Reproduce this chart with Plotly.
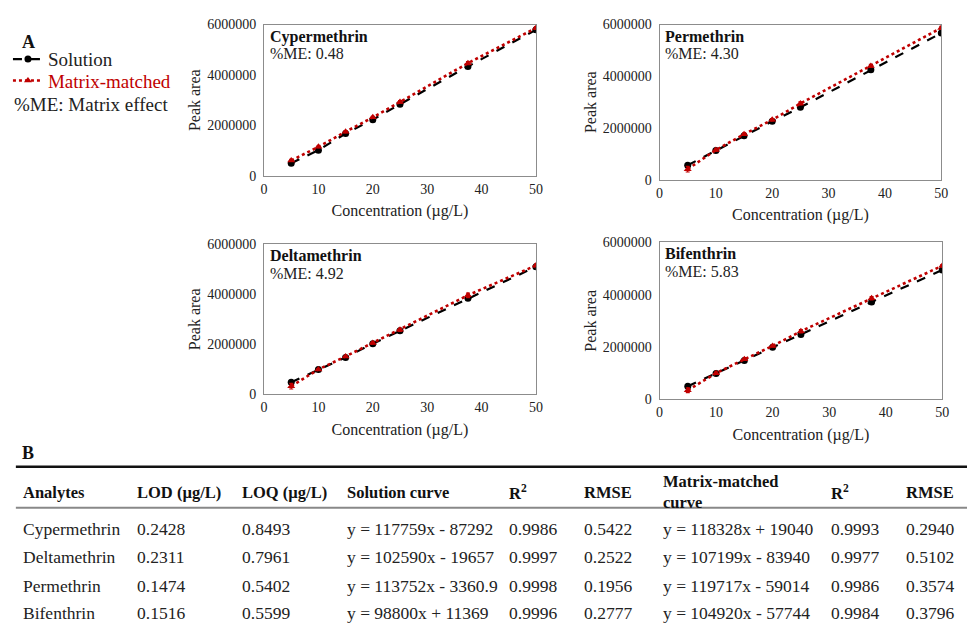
import plotly.graph_objects as go

W, H = 974, 626
conc = [5, 10, 15, 20, 25, 37.5, 50]

analytes_plot = ["Cypermethrin", "Permethrin", "Deltamethrin", "Bifenthrin"]
me_values = ["0.48", "4.30", "4.92", "5.83"]

solution = {
    "Cypermethrin": [500000, 1020000, 1680000, 2230000, 2840000, 4340000, 5790000],
    "Permethrin":   [560000, 1130000, 1700000, 2260000, 2800000, 4250000, 5670000],
    "Deltamethrin": [490000, 1000000, 1480000, 2030000, 2540000, 3840000, 5100000],
    "Bifenthrin":   [500000, 990000, 1480000, 1990000, 2480000, 3720000, 4940000],
}
matrix = {
    "Cypermethrin": [610000, 1150000, 1750000, 2320000, 2930000, 4470000, 5860000],
    "Permethrin":   [410000, 1150000, 1760000, 2320000, 2950000, 4400000, 5870000],
    "Deltamethrin": [330000, 1000000, 1520000, 2060000, 2580000, 3960000, 5150000],
    "Bifenthrin":   [350000, 1000000, 1530000, 2040000, 2600000, 3860000, 5100000],
}
matrix_err = {
    "Cypermethrin": [40000, 30000, 40000, 40000, 50000, 60000, 50000],
    "Permethrin":   [110000, 40000, 40000, 40000, 60000, 60000, 60000],
    "Deltamethrin": [110000, 30000, 30000, 40000, 60000, 90000, 50000],
    "Bifenthrin":   [90000, 40000, 40000, 40000, 60000, 60000, 50000],
}

# table data
tbl_headers = ["Analytes", "LOD (µg/L)", "LOQ (µg/L)", "Solution curve", "R<sup>2</sup>",
               "RMSE", "Matrix-matched<br>curve", "R<sup>2</sup>", "RMSE"]
tbl_analytes = ["Cypermethrin", "Deltamethrin", "Permethrin", "Bifenthrin"]
tbl_lod = ["0.2428", "0.2311", "0.1474", "0.1516"]
tbl_loq = ["0.8493", "0.7961", "0.5402", "0.5599"]
tbl_sol_curve = ["y = 117759x - 87292", "y = 102590x - 19657", "y = 113752x - 3360.9", "y = 98800x + 11369"]
tbl_sol_r2 = ["0.9986", "0.9997", "0.9998", "0.9996"]
tbl_sol_rmse = ["0.5422", "0.2522", "0.1956", "0.2777"]
tbl_mm_curve = ["y = 118328x + 19040", "y = 107199x - 83940", "y = 119717x - 59014", "y = 104920x - 57744"]
tbl_mm_r2 = ["0.9993", "0.9977", "0.9986", "0.9984"]
tbl_mm_rmse = ["0.2940", "0.5102", "0.3574", "0.3796"]

FONT = "Liberation Serif"
RED = "#c00000"

def px(x):
    return x / W

def py(y):
    return 1 - y / H

# plot boxes in pixels: (x0, x1, ytop, ybottom)
boxes = [
    (263, 538, 18, 173),
    (663, 948, 18, 177),
    (263, 538, 243, 397),
    (663, 949, 241, 402),
]

fig = go.Figure()
annotations = []
shapes = []

for i, name in enumerate(analytes_plot):
    ax = "" if i == 0 else str(i + 1)
    fig.add_trace(go.Scatter(
        x=conc, y=solution[name], mode="lines+markers",
        name="Solution", legend="legend", showlegend=(i == 0),
        line=dict(color="black", dash="dash", width=2.2),
        marker=dict(symbol="circle", size=7, color="black"),
        xaxis="x" + ax, yaxis="y" + ax,
    ))
    fig.add_trace(go.Scatter(
        x=conc, y=matrix[name], mode="lines+markers",
        name="<span style='color:%s'>Matrix-matched</span>" % RED, legend="legend2", showlegend=(i == 0),
        line=dict(color=RED, dash="dot", width=2.6),
        marker=dict(symbol="triangle-up", size=7, color=RED),
        error_y=dict(type="data", array=matrix_err[name], color=RED, thickness=1.2, width=2),
        xaxis="x" + ax, yaxis="y" + ax,
    ))
    x0, x1, yt, yb = boxes[i]
    xa = dict(domain=[px(x0), px(x1)], range=[0, 50], dtick=10, showgrid=False, zeroline=False,
              showline=True, mirror=True, linecolor="#8c8c8c", linewidth=1, ticks="",
              tickfont=dict(family=FONT, size=14, color="#222"),
              title=dict(text="Concentration (µg/L)", font=dict(family=FONT, size=16, color="#222"), standoff=9),
              anchor="y" + ax)
    ya = dict(domain=[py(yb), py(yt)], range=[0, 6000000], dtick=2000000, tickformat="d",
              showgrid=False, zeroline=False, showline=True, mirror=True, linecolor="#8c8c8c",
              linewidth=1, ticks="", ticklabelstandoff=4, tickfont=dict(family=FONT, size=14, color="#222"),
              title=dict(text="Peak area", font=dict(family=FONT, size=16, color="#222"), standoff=2),
              anchor="x" + ax)
    fig.update_layout(**{"xaxis" + ax: xa, "yaxis" + ax: ya})
    annotations.append(dict(x=px(x0 + 4), y=py(yt + 1), xref="paper", yref="paper",
                            text="<b>%s</b>" % name, showarrow=False, xanchor="left", yanchor="top",
                            font=dict(family=FONT, size=16, color="#111")))
    annotations.append(dict(x=px(x0 + 4), y=py(yt + 19), xref="paper", yref="paper",
                            text="%%ME: %s" % me_values[i], showarrow=False, xanchor="left", yanchor="top",
                            font=dict(family=FONT, size=16, color="#222")))

# panel labels
annotations.append(dict(x=px(16), y=py(36), xref="paper", yref="paper", text="<b>A</b>",
                        showarrow=False, xanchor="left", yanchor="middle",
                        font=dict(family=FONT, size=18, color="#111")))
annotations.append(dict(x=px(8), y=py(100), xref="paper", yref="paper", text="%ME: Matrix effect",
                        showarrow=False, xanchor="left", yanchor="middle",
                        font=dict(family=FONT, size=19, color="#222")))
annotations.append(dict(x=px(16), y=py(457), xref="paper", yref="paper", text="<b>B</b>",
                        showarrow=False, xanchor="left", yanchor="middle",
                        font=dict(family=FONT, size=18, color="#111")))

# table
col_x = [17, 133, 239, 345, 509, 585, 665, 834, 910]
header_y = 497
row_y = [535, 564, 593, 621]
for cx, h in zip(col_x, tbl_headers):
    annotations.append(dict(x=px(cx), y=py(header_y), xref="paper", yref="paper",
                            text="<b>%s</b>" % h, showarrow=False, xanchor="left", yanchor="middle",
                            align="left", font=dict(family=FONT, size=16.5, color="#111")))
columns = [tbl_analytes, tbl_lod, tbl_loq, tbl_sol_curve, tbl_sol_r2, tbl_sol_rmse,
           tbl_mm_curve, tbl_mm_r2, tbl_mm_rmse]
for cx, col in zip(col_x, columns):
    for ry, val in zip(row_y, col):
        annotations.append(dict(x=px(cx), y=py(ry), xref="paper", yref="paper",
                                text=val, showarrow=False, xanchor="left", yanchor="middle",
                                font=dict(family=FONT, size=17.5, color="#222")))

shapes.append(dict(type="line", xref="paper", yref="paper", x0=px(12), x1=1, y0=py(471), y1=py(471),
                   line=dict(color="#111", width=2.5)))
shapes.append(dict(type="line", xref="paper", yref="paper", x0=px(12), x1=1, y0=py(513), y1=py(513),
                   line=dict(color="#888", width=2)))

leg_common = dict(xanchor="left", yanchor="top", bgcolor="rgba(0,0,0,0)",
                  font=dict(family=FONT, size=19, color="#222"), itemwidth=30, itemsizing="trace")

fig.update_layout(
    width=W, height=H, margin=dict(l=0, r=0, t=0, b=0),
    paper_bgcolor="white", plot_bgcolor="white",
    font=dict(family=FONT, color="#222"),
    annotations=annotations, shapes=shapes,
    showlegend=True,
    legend=dict(x=px(4), y=py(34), **leg_common),
    legend2=dict(x=px(4), y=py(56), **leg_common),
)

fig.write_html("out.html")
